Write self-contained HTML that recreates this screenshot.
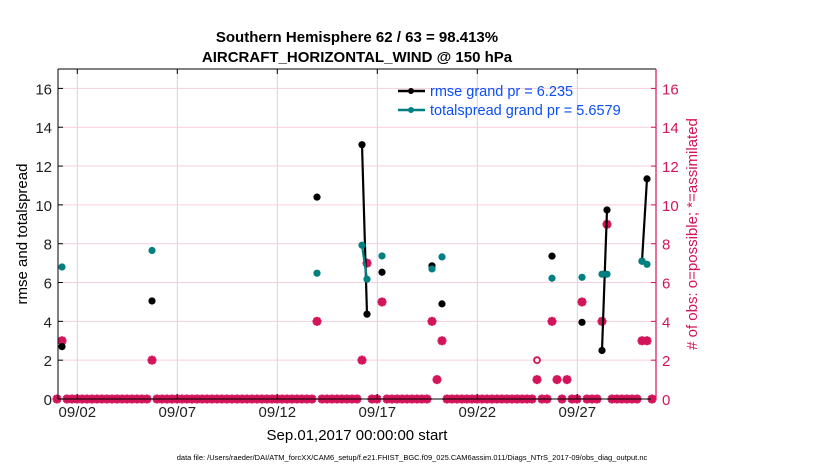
<!DOCTYPE html>
<html><head><meta charset="utf-8">
<style>
body{margin:0;background:#fff;}
svg{display:block;font-family:"Liberation Sans",Arial,sans-serif;}
</style></head>
<body>
<svg id="chart" width="830" height="470" viewBox="0 0 830 470" xmlns="http://www.w3.org/2000/svg">
<text x="357" y="42" text-anchor="middle" font-size="15" font-weight="bold">Southern Hemisphere 62 / 63 = 98.413%</text>
<text x="357" y="62" text-anchor="middle" font-size="15" font-weight="bold">AIRCRAFT_HORIZONTAL_WIND @ 150 hPa</text>
<g id="grid"></g>
<g id="marks"></g>
<g id="axes"></g>
<text transform="translate(27,234) rotate(-90)" text-anchor="middle" font-size="15">rmse and totalspread</text>
<text transform="translate(697,234) rotate(-90)" text-anchor="middle" font-size="15" fill="#d4145a"># of obs: o=possible; *=assimilated</text>
<text x="357" y="440" text-anchor="middle" font-size="15">Sep.01,2017 00:00:00 start</text>
<text x="412" y="460" text-anchor="middle" font-size="7.5">data file: /Users/raeder/DAI/ATM_forcXX/CAM6_setup/f.e21.FHIST_BGC.f09_025.CAM6assim.011/Diags_NTrS_2017-09/obs_diag_output.nc</text>
<g>
  <line x1="398" y1="91" x2="425" y2="91" stroke="#000" stroke-width="2.5"/>
  <circle cx="411" cy="91" r="3" fill="#000"/>
  <text x="430" y="96" font-size="14.5" fill="#0a4ef5">rmse grand pr = 6.235</text>
  <line x1="398" y1="110" x2="425" y2="110" stroke="#008080" stroke-width="2.5"/>
  <circle cx="411" cy="110" r="3" fill="#008080"/>
  <text x="430" y="115" font-size="14.5" fill="#0a4ef5">totalspread grand pr = 5.6579</text>
</g>
</svg>
<script>
// bins are 6-hourly, 120 bins over the month
const nBins = 120;
const rmseBins = [1, 19, 52, 61, 62, 65, 75, 77, 99, 105, 109, 110, 117, 118];
const rmseVals = [2.7, 5.05, 10.4, 13.1, 4.37, 6.53, 6.86, 4.9, 7.36, 3.95, 2.5, 9.74, 7.1, 11.34];
const spreadVals = [6.8, 7.65, 6.48, 7.92, 6.17, 7.37, 6.7, 7.32, 6.22, 6.27, 6.43, 6.43, 7.1, 6.94];
const countBins = [1, 19, 52, 61, 62, 65, 75, 76, 77, 96, 99, 100, 102, 105, 109, 110, 117, 118];
const possibleVals = [3, 2, 4, 2, 7, 5, 4, 1, 3, 2, 4, 1, 1, 5, 4, 9, 3, 3];
const assimVals = [3, 2, 4, 2, 7, 5, 4, 1, 3, 1, 4, 1, 1, 5, 4, 9, 3, 3];
const xTickLabels = ["09/02", "09/07", "09/12", "09/17", "09/22", "09/27"];
const xTickDays = [1, 6, 11, 16, 21, 26];
const yTicks = [0, 2, 4, 6, 8, 10, 12, 14, 16];

const L = 58, R = 656, T = 69, B = 399;
const PINK = "#d4145a";
function xDay(d){ return 57.3 + 20 * d; }
function xBin(i){ return 57 + 5 * i; }
function y(v){ return B - v * (B - T) / 17; }
const NS = "http://www.w3.org/2000/svg";
function mk(parent, tag, attrs){
  const e = document.createElementNS(NS, tag);
  for (const k in attrs) e.setAttribute(k, attrs[k]);
  parent.appendChild(e); return e;
}
const grid = document.getElementById('grid');
const marks = document.getElementById('marks');
const axes = document.getElementById('axes');

xTickDays.forEach((d, i) => {
  const g = mk(grid, 'line', {x1: xDay(d), x2: xDay(d), y1: T, y2: B, stroke: '#d6d6d6', 'stroke-width': 1});
  
  
});
yTicks.forEach(v => {
  if (v === 0) return;
  const g = mk(grid, 'line', {x1: L, x2: R, y1: y(v), y2: y(v), stroke: '#f5cfdd', 'stroke-width': 1});
  
  
});

mk(axes, 'line', {x1: L, x2: R, y1: T, y2: T, stroke: '#000', 'stroke-width': 1});
mk(axes, 'line', {x1: L, x2: R, y1: B, y2: B, stroke: '#000', 'stroke-width': 1});
mk(axes, 'line', {x1: L, x2: L, y1: T, y2: B, stroke: '#000', 'stroke-width': 1});
mk(axes, 'line', {x1: R, x2: R, y1: T, y2: B, stroke: PINK, 'stroke-width': 1.2});
yTicks.forEach(v => {
  mk(axes, 'line', {x1: L, x2: L + 5, y1: y(v), y2: y(v), stroke: '#000'});
  const t = mk(axes, 'text', {x: L - 6, y: y(v) + 6, 'text-anchor': 'end', 'font-size': 15, fill: '#222'});
  t.textContent = v;
  
  
  mk(axes, 'line', {x1: R - 5, x2: R, y1: y(v), y2: y(v), stroke: PINK});
  const t2 = mk(axes, 'text', {x: R + 6, y: y(v) + 6, 'font-size': 15, fill: PINK});
  t2.textContent = v;
  
  
});
xTickDays.forEach((d, i) => {
  mk(axes, 'line', {x1: xDay(d), x2: xDay(d), y1: T, y2: T + 5, stroke: '#000'});
  mk(axes, 'line', {x1: xDay(d), x2: xDay(d), y1: B, y2: B - 5, stroke: '#000'});
  const t = mk(axes, 'text', {x: xDay(d), y: B + 18, 'text-anchor': 'middle', 'font-size': 15, fill: '#222'});
  t.textContent = xTickLabels[i];
  
  
});

function star(cx, cy, name){
  const g = mk(marks, 'path', {d: `M${cx-4.5} ${cy}H${cx+4.5}M${cx} ${cy-4.5}V${cy+4.5}M${cx-3.2} ${cy-3.2}L${cx+3.2} ${cy+3.2}M${cx-3.2} ${cy+3.2}L${cx+3.2} ${cy-3.2}`, stroke: PINK, 'stroke-width': 2.8});
  
  
}
function circ(cx, cy, name){
  const c = mk(marks, 'circle', {cx: cx, cy: cy, r: 3, fill: 'none', stroke: PINK, 'stroke-width': 1.8});
  
  
}
for (let i = 0; i < nBins; i++){
  const k = countBins.indexOf(i);
  const p = k >= 0 ? possibleVals[k] : 0;
  const a = k >= 0 ? assimVals[k] : 0;
  circ(xBin(i), y(p), 'possible-count-marker');
  star(xBin(i), y(a), 'assimilated-count-marker');
}

function drawSeries(vals, color, name){
  for (let j = 0; j < rmseBins.length - 1; j++){
    if (rmseBins[j+1] - rmseBins[j] === 1){
      const l = mk(marks, 'line', {x1: xBin(rmseBins[j]), y1: y(vals[j]), x2: xBin(rmseBins[j+1]), y2: y(vals[j+1]), stroke: color, 'stroke-width': 2.2});
      
      
    }
  }
  rmseBins.forEach((b, j) => {
    const c = mk(marks, 'circle', {cx: xBin(b), cy: y(vals[j]), r: 3.6, fill: color});
    
    
  });
}
drawSeries(rmseVals, '#000', 'rmse');
drawSeries(spreadVals, '#008080', 'totalspread');
</script>
</body></html>
